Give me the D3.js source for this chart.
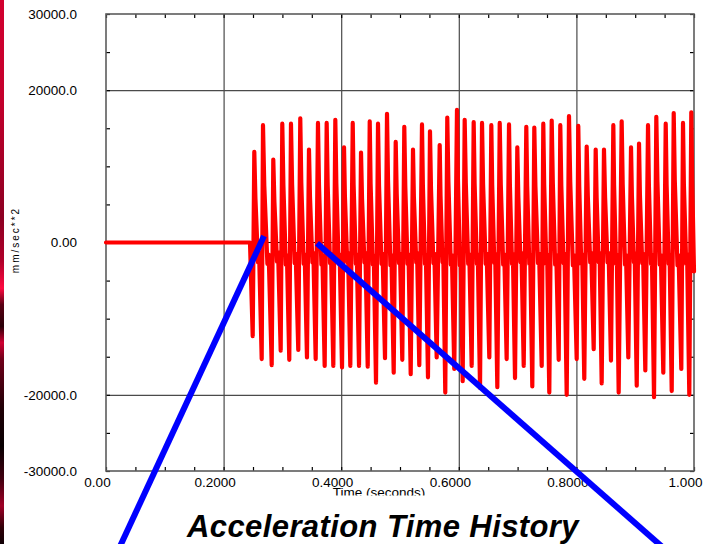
<!DOCTYPE html>
<html>
<head>
<meta charset="utf-8">
<script src="https://cdn.jsdelivr.net/npm/d3@7"></script>
<style>
  html, body { margin: 0; padding: 0; background: #ffffff; }
  svg { display: block; font-family: "Liberation Sans", Arial, sans-serif; }
</style>
</head>
<body>
<svg id="chart" width="705" height="544"></svg>
<script>
// Acceleration signal: time (s) and acceleration (mm/sec**2)
const signalTime = [
  0, 0.2449,
  0.2495, 0.2522, 0.2541, 0.2585, 0.2604,
  0.2648, 0.2670, 0.2692, 0.2745, 0.2767,
  0.2818, 0.2845, 0.2864, 0.2908, 0.2927,
  0.2971, 0.2998, 0.3017, 0.3058, 0.3077,
  0.3117, 0.3146, 0.3165, 0.3209, 0.3226,
  0.3270, 0.3304, 0.3321, 0.3362, 0.3379,
  0.3418, 0.3452, 0.3469, 0.3510, 0.3527,
  0.3566, 0.3605, 0.3622, 0.3663, 0.3680,
  0.3719, 0.3753, 0.3770, 0.3810, 0.3827,
  0.3866, 0.3900, 0.3917, 0.3957, 0.3974,
  0.4014, 0.4048, 0.4063, 0.4102, 0.4117,
  0.4155, 0.4196, 0.4211, 0.4250, 0.4265,
  0.4303, 0.4337, 0.4354, 0.4395, 0.4412,
  0.4451, 0.4485, 0.4500, 0.4539, 0.4554,
  0.4592, 0.4626, 0.4643, 0.4685, 0.4704,
  0.4745, 0.4779, 0.4796, 0.4837, 0.4854,
  0.4893, 0.4927, 0.4944, 0.4983, 0.5000,
  0.5039, 0.5073, 0.5090, 0.5128, 0.5145,
  0.5182, 0.5221, 0.5236, 0.5276, 0.5291,
  0.5328, 0.5374, 0.5389, 0.5425, 0.5440,
  0.5476, 0.5510, 0.5527, 0.5568, 0.5585,
  0.5624, 0.5675, 0.5689, 0.5723, 0.5736,
  0.5770, 0.5804, 0.5823, 0.5864, 0.5883,
  0.5923, 0.5969, 0.5985, 0.6019, 0.6032,
  0.6066, 0.6100, 0.6119, 0.6160, 0.6179,
  0.6219, 0.6253, 0.6269, 0.6308, 0.6323,
  0.6361, 0.6395, 0.6413, 0.6457, 0.6474,
  0.6519, 0.6553, 0.6568, 0.6604, 0.6619,
  0.6655, 0.6696, 0.6714, 0.6755, 0.6774,
  0.6814, 0.6854, 0.6869, 0.6905, 0.6920,
  0.6956, 0.6995, 0.7012, 0.7049, 0.7066,
  0.7104, 0.7148, 0.7163, 0.7199, 0.7214,
  0.7250, 0.7284, 0.7303, 0.7347, 0.7366,
  0.7410, 0.7437, 0.7452, 0.7488, 0.7503,
  0.7539, 0.7580, 0.7599, 0.7639, 0.7658,
  0.7699, 0.7726, 0.7743, 0.7781, 0.7798,
  0.7835, 0.7874, 0.7895, 0.7940, 0.7959,
  0.8005, 0.8032, 0.8048, 0.8083, 0.8099,
  0.8134, 0.8175, 0.8194, 0.8235, 0.8253,
  0.8294, 0.8328, 0.8344, 0.8379, 0.8395,
  0.8430, 0.8469, 0.8488, 0.8529, 0.8548,
  0.8588, 0.8628, 0.8641, 0.8673, 0.8687,
  0.8719, 0.8770, 0.8787, 0.8827, 0.8844,
  0.8883, 0.8929, 0.8944, 0.8978, 0.8991,
  0.9026, 0.9065, 0.9080, 0.9119, 0.9134,
  0.9172, 0.9218, 0.9233, 0.9269, 0.9284,
  0.9320, 0.9359, 0.9378, 0.9418, 0.9437,
  0.9478, 0.9519, 0.9534, 0.9570, 0.9585,
  0.9621, 0.9655, 0.9673, 0.9719, 0.9738,
  0.9784, 0.9813, 0.9828, 0.9867, 0.9883,
  0.9920, 0.9954, 0.9969, 1.0000
];

const signalAccel = [
  0, 0,
  -12300, 11900, 5800, -2600, -1400,
  -15300, 15400, 7400, -2800, -1600,
  -16100, 10900, 5300, -2500, -1300,
  -14200, 15600, 7500, -2900, -1700,
  -15400, 15600, 7600, -2700, -1500,
  -14100, 16300, 7900, -2800, -1600,
  -15100, 12200, 6000, -2600, -1400,
  -15300, 15700, 7600, -2900, -1700,
  -16200, 15700, 7500, -2700, -1500,
  -16200, 16100, 7800, -2800, -1600,
  -16400, 12500, 6100, -2600, -1400,
  -16200, 15700, 7600, -2800, -1600,
  -16200, 11800, 5800, -2600, -1400,
  -16300, 15900, 7700, -2900, -1700,
  -18400, 15600, 7500, -2800, -1500,
  -15200, 16900, 8200, -3000, -1700,
  -17100, 13200, 6400, -2700, -1500,
  -15400, 15200, 7300, -2800, -1600,
  -17300, 12200, 6000, -2600, -1400,
  -16100, 15500, 7500, -2800, -1600,
  -17700, 14600, 7100, -2700, -1500,
  -15100, 12800, 6200, -2600, -1400,
  -19700, 16400, 8000, -2900, -1700,
  -16600, 17400, 8400, -3000, -1800,
  -18200, 16100, 7800, -2800, -1600,
  -16200, 15800, 7700, -2800, -1600,
  -19100, 15700, 7600, -2800, -1500,
  -15100, 15400, 7500, -2700, -1500,
  -19000, 15700, 7600, -2900, -1600,
  -15300, 15500, 7500, -2800, -1500,
  -17800, 12500, 6100, -2600, -1400,
  -16200, 15200, 7400, -2800, -1600,
  -18900, 15100, 7300, -2700, -1500,
  -16200, 15600, 7600, -2800, -1600,
  -19700, 16000, 7800, -2900, -1700,
  -15400, 15400, 7500, -2700, -1500,
  -20000, 16600, 8000, -3000, -1700,
  -15300, 15300, 7400, -2800, -1600,
  -17900, 12600, 6100, -2600, -1400,
  -14000, 12200, 5900, -2600, -1400,
  -18500, 12200, 5900, -2600, -1400,
  -15500, 15400, 7500, -2800, -1600,
  -19700, 15900, 7700, -2900, -1700,
  -15100, 12500, 6100, -2600, -1400,
  -18800, 13000, 6300, -2700, -1500,
  -16800, 15400, 7500, -2800, -1600,
  -20300, 16500, 8000, -2900, -1700,
  -17100, 15600, 7600, -2800, -1600,
  -19500, 17000, 8200, -3000, -1700,
  -16600, 15700, 7600, -2800, -1600,
  -20000, 17100, 8300, -3800
];

// Axis ticks and labels
const xLabelTicks = [0, 0.2, 0.4, 0.6, 0.8, 1.0];
const xLabelText = ["0.00", "0.2000", "0.4000", "0.6000", "0.8000", "1.000"];
const yLabelTicks = [30000, 20000, 0, -20000, -30000];
const yLabelText = ["30000.0", "20000.0", "0.00", "-20000.0", "-30000.0"];
const xGridTicks = [0.2, 0.4, 0.6, 0.8];
const yGridTicks = [20000, -20000];
const xMinorStep = 0.05;
const yMinorStep = 5000;

// Callout lines, endpoints in (time, acceleration) units
const calloutFrom = [[0.2687, 850], [0.3588, -100]];
const calloutTo = [[0.0172, -41000], [0.9613, -41000]];

const titleText = "Acceleration Time History";
const xAxisTitle = "Time (seconds)";
const yAxisTitle = "mm/sec**2";

const svg = d3.select("#chart");
const W = 705, H = 544;
const plot = { left: 106, right: 694, top: 14, bottom: 471 };

const x = d3.scaleLinear().domain([0, 1]).range([plot.left, plot.right]);
const y = d3.scaleLinear().domain([-30000, 30000]).range([plot.bottom, plot.top]);

// Slide accent strip on the left edge
const defs = svg.append("defs");
const grad = defs.append("linearGradient")
  .attr("id", "edgeGrad").attr("x1", 0).attr("y1", 0).attr("x2", 0).attr("y2", 1);
[
  [0.00, "#d2002f"], [0.18, "#c4002c"], [0.40, "#8c0022"], [0.48, "#b0002a"],
  [0.53, "#ff0a40"], [0.56, "#5a0014"], [0.60, "#2a0008"], [0.63, "#d00032"],
  [0.66, "#70001a"], [0.75, "#200006"], [0.82, "#080002"], [0.88, "#400010"],
  [0.93, "#a00026"], [0.97, "#300008"], [1.00, "#100004"]
].forEach(([o, c]) => grad.append("stop").attr("offset", o).attr("stop-color", c));
svg.append("rect").attr("x", 0).attr("y", 0).attr("width", 4).attr("height", H)
  .attr("fill", "url(#edgeGrad)");

// Grid lines
const gridColor = "#4a4a4a";
svg.append("g")
  .attr("transform", `translate(0,${plot.bottom})`)
  .call(d3.axisBottom(x).tickValues(xGridTicks).tickSize(-(plot.bottom - plot.top)).tickFormat(""))
  .call(g => g.select(".domain").remove())
  .call(g => g.selectAll(".tick line").attr("stroke", gridColor).attr("stroke-width", 1.2));
svg.append("g")
  .attr("transform", `translate(${plot.left},0)`)
  .call(d3.axisLeft(y).tickValues(yGridTicks).tickSize(-(plot.right - plot.left)).tickFormat(""))
  .call(g => g.select(".domain").remove())
  .call(g => g.selectAll(".tick line").attr("stroke", gridColor).attr("stroke-width", 1.2));

// Zero line
svg.append("line")
  .attr("x1", x(0)).attr("x2", x(1)).attr("y1", y(0)).attr("y2", y(0))
  .attr("stroke", "#000").attr("stroke-width", 1);

// Minor ticks pointing inward on all four sides
const xMinor = d3.range(0, 1 + 1e-9, xMinorStep);
const yMinor = d3.range(-30000, 30000 + 1e-6, yMinorStep);
const tickLen = 4;
const minorStyle = g => {
  g.select(".domain").remove();
  g.selectAll(".tick line").attr("stroke", "#000").attr("stroke-width", 1.2);
};
svg.append("g").attr("transform", `translate(0,${plot.bottom})`)
  .call(d3.axisBottom(x).tickValues(xMinor).tickSize(-tickLen).tickFormat("")).call(minorStyle);
svg.append("g").attr("transform", `translate(0,${plot.top})`)
  .call(d3.axisTop(x).tickValues(xMinor).tickSize(-tickLen).tickFormat("")).call(minorStyle);
svg.append("g").attr("transform", `translate(${plot.left},0)`)
  .call(d3.axisLeft(y).tickValues(yMinor).tickSize(-tickLen).tickFormat("")).call(minorStyle);
svg.append("g").attr("transform", `translate(${plot.right},0)`)
  .call(d3.axisRight(y).tickValues(yMinor).tickSize(-tickLen).tickFormat("")).call(minorStyle);

// Plot frame
svg.append("rect")
  .attr("x", plot.left).attr("y", plot.top)
  .attr("width", plot.right - plot.left).attr("height", plot.bottom - plot.top)
  .attr("fill", "none").attr("stroke", "#5c5c5c").attr("stroke-width", 1.6);

// Tick labels
const labelFont = 13.5;
svg.append("g").attr("transform", `translate(0,${plot.bottom})`)
  .call(d3.axisBottom(x).tickValues(xLabelTicks).tickSize(0).tickPadding(6.4)
    .tickFormat((d, i) => xLabelText[i]))
  .call(g => g.select(".domain").remove())
  .call(g => g.selectAll(".tick text")
    .attr("font-size", labelFont).attr("fill", "#000").attr("dx", -9)
    .attr("font-family", "Liberation Sans, Arial, sans-serif"));

svg.append("g").attr("transform", `translate(${plot.left},0)`)
  .call(d3.axisLeft(y).tickValues(yLabelTicks).tickSize(0).tickPadding(29)
    .tickFormat((d, i) => yLabelText[i]))
  .call(g => g.select(".domain").remove())
  .call(g => g.selectAll(".tick text")
    .attr("font-size", labelFont).attr("fill", "#000")
    .attr("font-family", "Liberation Sans, Arial, sans-serif"));

// Axis titles
defs.append("clipPath").attr("id", "xTitleClip")
  .append("rect").attr("x", 0).attr("y", 0).attr("width", W).attr("height", 495.5);
svg.append("text")
  .attr("clip-path", "url(#xTitleClip)")
  .attr("x", 379).attr("y", 497)
  .attr("text-anchor", "middle")
  .attr("font-size", 13.5).attr("fill", "#000")
  .text(xAxisTitle);

svg.append("text")
  .attr("transform", "translate(19,240) rotate(-90)")
  .attr("text-anchor", "middle")
  .attr("font-size", 10).attr("letter-spacing", 2).attr("fill", "#000")
  .text(yAxisTitle);

// Acceleration trace
const signal = d3.zip(signalTime, signalAccel);
const line = d3.line().x(d => x(d[0])).y(d => y(d[1]));
svg.append("path")
  .datum(signal)
  .attr("d", line)
  .attr("fill", "none")
  .attr("stroke", "#ff0000")
  .attr("stroke-width", 4.2)
  .attr("stroke-linejoin", "round")
  .attr("stroke-linecap", "round");

// Chart title
svg.append("text")
  .attr("x", 383).attr("y", 537)
  .attr("text-anchor", "middle")
  .attr("font-size", 31).attr("font-weight", "bold").attr("font-style", "italic")
  .attr("letter-spacing", 0.4)
  .attr("fill", "#000")
  .text(titleText);

// Callout lines
svg.append("g").selectAll("line")
  .data(d3.zip(calloutFrom, calloutTo))
  .join("line")
  .attr("x1", d => x(d[0][0])).attr("y1", d => y(d[0][1]))
  .attr("x2", d => x(d[1][0])).attr("y2", d => y(d[1][1]))
  .attr("stroke", "#0000ff").attr("stroke-width", 6);
</script>
</body>
</html>
